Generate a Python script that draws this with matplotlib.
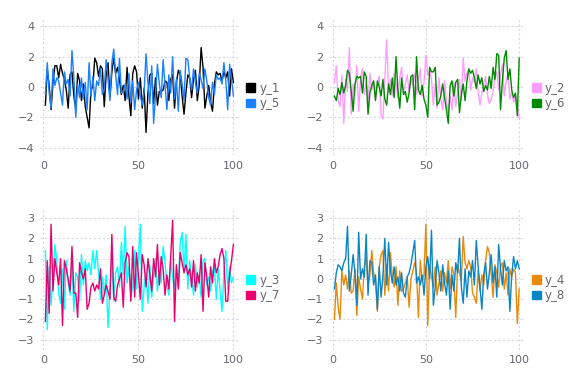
import matplotlib
matplotlib.use("Agg")
import matplotlib.pyplot as plt
from matplotlib.patches import Patch

x = list(range(1, 101))

y1 = [-1.2, 1.2, 0.1, -1.5, 0.3, 1.4, 1.4, 0.6, 1.5, 0.9,
      0.5, -0.2, -1.4, 0.8, 1.0, -0.6, -1.5, 0.9, 0.4, -0.9,
      0.2, -1.3, -2.0, -2.7, -0.2, 0.0, 1.9, 1.6, 0.7, 1.4,
      1.2, -1.3, 0.8, 1.6, -0.7, 1.0, 1.9, 0.9, 1.3, 0.5,
      -0.5, 0.1, -0.9, 1.3, -0.6, -1.9, 0.9, 1.4, 1.0, -0.8,
      0.6, -1.4, -0.1, -3.0, -0.4, 0.8, 0.9, -1.1, 0.6, -1.2,
      -0.3, -0.3, -0.2, 0.4, 0.3, -0.9, 0.5, 0.8, -1.4, 0.3,
      1.1, 0.8, -0.6, -1.8, -0.4, 0.8, 0.6, -0.7, 0.5, 1.1,
      -0.9, 0.1, 2.6, 1.3, -1.4, -0.6, 0.1, -1.0, -1.6, 0.2,
      1.0, 0.8, 0.9, 0.4, 1.0, 0.6, 1.0, -0.6, 1.2, 0.3]
y5 = [-0.5, 1.6, -0.4, -1.4, 1.2, 0.1, 0.6, 0.4, -0.4, -1.2,
      1.0, 0.2, 0.5, -0.6, 2.4, 0.6, -2.0, 0.2, -0.7, 0.6,
      -0.8, 0.3, -1.5, 1.6, -0.6, 0.7, -0.9, 0.4, 0.1, 1.2,
      -0.5, -0.1, 1.8, 0.5, -0.9, 1.6, 2.5, 0.8, -0.5, 1.9,
      -0.4, -0.3, 0.2, -0.8, 0.9, -1.0, 0.4, -1.5, -0.2, 0.3,
      -0.6, -1.2, -0.3, 2.2, 0.3, -1.1, 1.4, -2.4, -0.5, 1.5,
      0.2, -0.7, 1.8, 0.1, -1.5, 0.8, -0.4, 2.0, -0.8, 0.5,
      -1.6, 1.1, 0.2, -0.9, 1.9, 1.8, 0.6, -0.2, 1.2, 0.3,
      -0.4, 0.9, 0.5, -0.1, 1.2, 0.4, -0.7, -1.2, 0.3, -0.5,
      0.8, 0.5, 0.6, 0.2, 1.6, 0.4, -1.5, 1.5, 0.5, -0.6]

y2 = [0.3, 1.4, -0.9, -1.3, 0.8, -2.4, 0.5, -0.3, 2.6, -1.8,
      0.2, -0.4, 1.4, -1.6, 0.6, 1.2, -0.5, 0.3, -1.0, 0.9,
      -0.2, 0.4, -0.8, 0.1, 0.7, -1.9, -2.1, 0.6, 3.1, -0.3,
      0.5, -0.6, 0.9, 0.2, -0.7, 0.6, 1.3, -0.4, 0.2, 0.8,
      -0.3, 0.6, 0.1, 0.9, -0.5, 0.4, 1.2, -0.6, 0.3, 2.1,
      0.8, 1.1, 0.5, -1.2, 0.2, -1.4, 0.6, -0.8, -1.5, 0.4,
      -0.9, -1.7, -0.6, -1.5, 0.3, -1.3, -0.4, 0.5, -0.9, 1.9,
      0.4, 0.9, 1.1, -0.2, 0.6, 0.3, 1.2, -0.3, -1.2, -0.4,
      0.1, 0.7, -0.5, -1.1, -0.8, -0.3, 0.6, 1.0, -0.2, 0.8,
      1.5, -0.6, 0.4, 0.9, -0.8, -0.3, -1.0, -0.6, -1.2, -2.1]
y6 = [-0.6, -0.9, -0.1, -0.5, 0.3, -0.4, 0.1, 1.1, 0.9, -0.3,
      -1.6, 0.2, 0.7, 0.6, 0.7, -0.4, 1.0, 0.7, -1.8, -0.4,
      0.1, 0.4, -0.9, 0.4, 0.0, -0.6, 0.5, -0.8, -1.2, 0.2,
      -0.5, 0.6, -0.7, 2.0, -0.2, -1.4, 0.6, -0.5, -0.3, -1.0,
      -0.4, 0.7, 0.8, -1.5, 2.0, -0.2, -0.5, 0.1, -0.8, -1.2,
      -2.0, 1.3, 1.0, 1.0, 1.3, -1.2, -1.0, -0.6, 0.2, -0.7,
      -1.5, -2.4, 0.1, 0.4, -0.6, 0.3, 0.5, -1.7, -0.5, 0.2,
      -0.9, 0.4, 1.2, 0.9, 1.1, 0.6, -0.1, 0.8, 0.2, 0.6,
      -0.3, 0.1, -0.2, 0.7, -0.1, 1.3, 0.5, 2.2, 2.1, -1.5,
      0.4, 1.9, 2.4, 0.5, 1.2, -0.2, -0.7, -0.4, -1.9, 1.9]

y3 = [1.4, -2.5, 0.6, -1.3, 0.2, 1.7, 0.9, -0.7, -1.2, 0.5,
      -1.5, 0.9, -0.2, -0.8, 0.9, -1.6, 0.3, 0.1, -1.1, 1.2,
      -0.3, 0.9, 0.4, 0.8, 0.2, 1.4, 0.5, 1.4, 0.3, -1.0,
      0.1, -0.8, 0.2, -2.4, -0.6, 1.2, -1.1, 0.3, 0.6, -0.4,
      1.8, 0.2, 2.6, -0.2, 0.6, -0.9, -0.4, 1.4, -0.5, 1.1,
      2.7, -1.6, -0.4, 0.3, -1.2, 0.7, -0.9, 0.2, 1.0, -0.6,
      0.4, -0.2, 1.6, 0.8, -0.3, -0.8, 0.9, 0.1, -0.5, 0.6,
      -0.4, 1.8, 2.3, 0.4, 2.2, -0.5, 0.9, 0.1, -0.8, 0.7,
      -0.4, 0.2, -0.9, 0.9, 1.0, -0.3, 0.1, -0.6, 0.4, 0.6,
      -1.0, 0.5, -0.6, -1.6, 0.3, 1.4, -0.5, 0.6, -0.2, 0.1]
y7 = [-2.1, 0.9, -1.7, 2.7, -0.6, 1.0, 0.3, -0.3, 1.0, -2.3,
      0.9, 0.5, 0.0, -0.6, 1.6, -0.7, -0.7, -1.9, 0.8, 0.3,
      0.0, 0.5, -1.5, -1.2, -0.4, -0.2, -0.6, -0.3, -0.5, 0.5,
      -1.2, -0.8, -0.3, -0.6, -1.0, 2.2, -0.9, -1.1, -0.3, 0.0,
      0.3, -1.4, 0.8, 1.3, 1.1, -1.1, 1.6, -0.9, 1.3, 0.2,
      -1.0, 1.2, 0.7, -0.4, 1.0, 0.2, -0.6, 1.0, 0.1, 1.7,
      -0.3, 1.1, 0.5, -0.8, 0.2, -0.5, 1.1, 2.9, -2.1, 0.7,
      -0.5, 1.3, 0.8, 0.3, 0.7, 0.2, 0.5, -0.4, 0.9, -0.6,
      0.3, -0.2, 1.2, -1.6, 0.8, 0.1, -0.9, 0.6, -0.2, 1.0,
      0.3, 0.6, 1.2, 1.5, 1.0, -1.1, -1.1, 0.2, 0.9, 1.7]

y4 = [-2.0, -0.2, -1.4, -2.0, 0.4, -0.3, 0.2, -0.5, 0.4, -0.7,
      -0.6, 0.5, -1.8, 0.1, -0.5, -1.0, 0.6, 1.1, -0.3, 0.2,
      1.4, 0.3, -0.1, -1.6, 0.6, 1.2, 1.4, -0.8, 0.7, -0.6,
      1.3, 0.1, -0.4, 0.6, -1.3, 0.4, -0.6, -0.5, -0.2, 0.1,
      -1.4, 0.0, 0.4, 0.8, 0.3, -1.9, 0.9, -0.1, 0.2, 2.7,
      -2.3, 0.7, 0.1, -0.4, 0.6, -0.8, -0.2, 0.4, -0.6, 0.3,
      -0.2, 0.9, -0.5, 0.6, 0.2, -1.9, 0.7, 0.3, -0.1, 2.1,
      0.8, 0.5, 0.9, 0.6, -0.7, -0.9, -1.2, 0.4, -0.6, 0.2,
      -0.3, 0.9, 1.6, 1.3, 0.2, -0.9, 0.7, 0.3, -0.4, 0.6,
      0.8, -0.5, 0.3, -0.8, 0.5, 0.1, 0.5, 0.3, -2.2, -0.5]
y8 = [-0.5, 0.3, 0.7, 0.6, 0.4, 0.8, 1.0, 2.6, -0.6, 0.2,
      1.2, 0.3, -1.3, 2.3, 0.0, 0.5, 0.1, 2.2, -0.8, 0.9,
      0.8, -0.3, 0.2, -1.5, 0.6, -0.9, 0.2, 2.0, -0.3, 1.8,
      0.4, -0.2, 0.6, -0.3, 0.1, -0.6, 0.3, -0.7, -0.9, 0.1,
      0.3, 0.7, 1.3, 1.9, -0.2, 0.1, -0.3, 0.2, -0.8, 0.6,
      1.1, 0.0, 2.4, -1.3, -0.4, 0.9, 0.3, -0.6, 0.7, -0.2,
      -0.8, 0.4, -1.5, 0.2, -0.6, 0.8, 0.3, 2.0, -0.4, -1.2,
      0.5, -0.9, 0.4, 0.1, 0.9, -0.3, 1.9, 0.6, -0.4, -1.5,
      0.2, 0.8, -0.5, 0.3, 1.2, -0.2, 0.6, -0.9, 1.7, 0.5,
      -0.3, 0.9, 0.4, 0.6, -1.6, 0.2, 1.1, 0.5, 0.9, 0.5]

panels = [
    ([("y_1", y1, "#000000"), ("y_5", y5, "#1a80ff")], [-4, -2, 0, 2, 4], (-4.5, 4.5)),
    ([("y_2", y2, "#ff9cff"), ("y_6", y6, "#008a00")], [-4, -2, 0, 2, 4], (-4.5, 4.5)),
    ([("y_3", y3, "#00ffff"), ("y_7", y7, "#e8006f")], [-3, -2, -1, 0, 1, 2, 3], (-3.5, 3.4)),
    ([("y_4", y4, "#e8890c"), ("y_8", y8, "#0a85c4")], [-3, -2, -1, 0, 1, 2, 3], (-3.5, 3.4)),
]
positions = [
    [0.069, 0.596, 0.346, 0.355],
    [0.571, 0.596, 0.340, 0.355],
    [0.069, 0.089, 0.346, 0.364],
    [0.571, 0.089, 0.340, 0.364],
]

grey = "#66666e"
fig = plt.figure(figsize=(5.76, 3.84), dpi=100)

for (series, yt, yl), pos in zip(panels, positions):
    ax = fig.add_axes(pos)
    for name, ys, c in series:
        ax.plot(x, ys, color=c, lw=1.0)
    ax.set_xlim(-1.97, 102.97)
    ax.set_ylim(*yl)
    ax.set_xticks([0, 50, 100])
    ax.set_yticks(yt)
    ax.grid(True, color="#d6d6e4", ls=(0, (2, 2)), lw=0.8)
    ax.set_axisbelow(True)
    for s in ax.spines.values():
        s.set_visible(False)
    ax.tick_params(length=0, labelsize=8, colors=grey, pad=4)
    handles = [Patch(facecolor=c, edgecolor=c, label=name) for name, ys, c in series]
    # first entry sits on the vertical middle, second below it
    y_mid = (0 - yl[0]) / (yl[1] - yl[0])
    ax.legend(handles=handles, loc="upper left",
              bbox_to_anchor=(1.025, y_mid + 0.055),
              frameon=False, handlelength=0.75, handleheight=0.75,
              handletextpad=0.35, labelspacing=0.2, fontsize=8.5,
              labelcolor=grey, borderaxespad=0.0, borderpad=0.2)

fig.savefig("out.png", dpi=100)
